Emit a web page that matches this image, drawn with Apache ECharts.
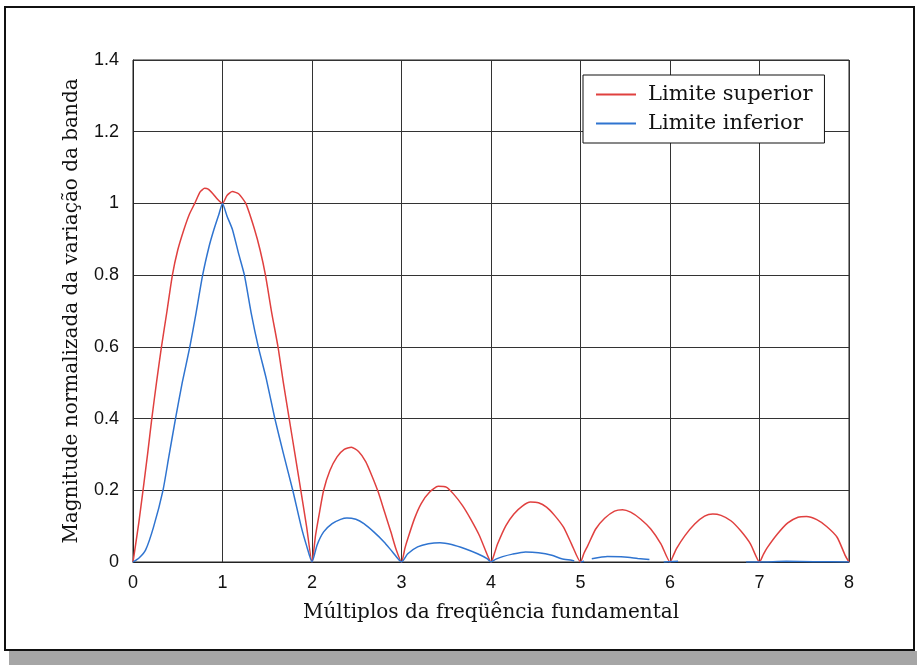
<!DOCTYPE html>
<html>
<head>
<meta charset="utf-8">
<script src="https://cdn.jsdelivr.net/npm/echarts@6/dist/echarts.min.js"></script>
<style>
html,body{margin:0;padding:0;background:#fff;}
#chart{width:917px;height:668px;}
</style>
</head>
<body>
<div id="chart"></div>
<script>
// ---- data ----
const seriesNames = ['Limite superior', 'Limite inferior'];
const xTicks = [0, 1, 2, 3, 4, 5, 6, 7, 8];
const yTicks = [0, 0.2, 0.4, 0.6, 0.8, 1, 1.2, 1.4];

const upperX = [0,0.03,0.065,0.112,0.165,0.21,0.265,0.318,0.38,0.44,0.5,0.57,0.63,0.69,0.75,0.8,0.84,0.89,0.95,1.0,
  1.05,1.11,1.18,1.26,1.355,1.42,1.48,1.55,1.62,1.68,1.745,1.81,1.875,1.94,2.0,
  2.04,2.085,2.13,2.2,2.28,2.36,2.44,2.52,2.6,2.67,2.74,2.81,2.88,2.94,3.0,
  3.04,3.07,3.145,3.22,3.315,3.41,3.5,3.58,3.68,3.77,3.87,3.96,4.0,
  4.04,4.073,4.165,4.256,4.35,4.44,4.53,4.62,4.71,4.81,4.9,5.0,
  5.04,5.08,5.17,5.27,5.38,5.47,5.56,5.67,5.785,5.9,6.0,
  6.04,6.074,6.165,6.276,6.386,6.478,6.57,6.68,6.79,6.9,7.0,
  7.045,7.087,7.2,7.316,7.43,7.525,7.64,7.75,7.867,7.96,8.0];
const upperY = [0,0.05,0.11,0.2,0.305,0.4,0.505,0.6,0.7,0.8,0.87,0.928,0.97,1.0,1.032,1.042,1.04,1.028,1.01,1.0,
  1.022,1.033,1.027,1.0,0.93,0.87,0.8,0.695,0.6,0.5,0.4,0.3,0.2,0.098,0,
  0.075,0.14,0.2,0.255,0.293,0.314,0.32,0.308,0.28,0.24,0.195,0.14,0.085,0.035,0,
  0.04,0.065,0.121,0.163,0.195,0.211,0.209,0.19,0.158,0.121,0.074,0.019,0,
  0.025,0.05,0.101,0.134,0.156,0.167,0.165,0.153,0.13,0.097,0.05,0,
  0.025,0.045,0.092,0.122,0.142,0.146,0.139,0.12,0.092,0.05,0,
  0.02,0.038,0.073,0.106,0.128,0.134,0.13,0.115,0.087,0.05,0,
  0.022,0.04,0.078,0.109,0.125,0.127,0.118,0.099,0.069,0.017,0];

const lowerX = [0,0.07,0.14,0.23,0.335,0.4,0.475,0.55,0.635,0.705,0.778,0.85,0.905,0.96,1.0,
  1.05,1.11,1.18,1.245,1.32,1.4,1.49,1.585,1.68,1.785,1.88,1.94,2.0,
  2.056,2.13,2.225,2.32,2.39,2.49,2.58,2.69,2.805,2.9,3.0,
  3.07,3.18,3.3,3.43,3.56,3.71,3.85,3.96,4.0,
  4.055,4.13,4.24,4.385,4.53,4.68,4.79,4.9,4.93,4.96,5.0,5.04,5.08,
  5.126,5.3,5.49,5.64,5.77,5.85,5.93,6.09,6.5,6.85,7.0,7.3,7.6,8.0];
const lowerY = [0,0.012,0.033,0.098,0.2,0.293,0.4,0.5,0.6,0.695,0.8,0.88,0.928,0.97,1.0,
  0.965,0.928,0.86,0.8,0.695,0.6,0.51,0.4,0.303,0.2,0.098,0.045,0,
  0.047,0.084,0.107,0.119,0.123,0.119,0.107,0.084,0.056,0.028,0,
  0.023,0.042,0.051,0.054,0.049,0.037,0.023,0.009,0,
  0.008,0.015,0.022,0.028,0.026,0.019,0.009,0.005,0.003,null,0,0.002,null,
  0.009,0.015,0.014,0.01,0.007,null,0,0.002,null,0,0,0.002,0.001,0];

function pairs(xs, ys) { return xs.map((x, i) => [x, ys[i] === null ? '-' : ys[i]]); }

const chart = echarts.init(document.getElementById('chart'));
const serifFont = '"DejaVu Serif", serif';
const sansFont = '"Liberation Sans", Arial, sans-serif';

chart.setOption({
  backgroundColor: '#ffffff',
  animation: false,
  graphic: [
    { type: 'rect', z: 0, shape: { x: 9, y: 651, width: 908, height: 14 }, style: { fill: '#a6a6a6' } },
    { type: 'rect', z: 0, shape: { x: 5, y: 7, width: 909, height: 643 }, style: { fill: 'none', stroke: '#111', lineWidth: 2 } }
  ],
  grid: { left: 133, top: 60, right: 68, bottom: 106, show: true, borderColor: '#222', borderWidth: 1, backgroundColor: 'transparent' },
  legend: {
    orient: 'vertical', left: 583, top: 75,
    padding: [9, 12, 9, 13], itemGap: 8,
    itemWidth: 40, itemHeight: 2, icon: 'rect',
    backgroundColor: '#fff', borderColor: '#111', borderWidth: 1,
    textStyle: { fontFamily: serifFont, fontSize: 21, color: '#111', padding: [0, 0, 0, 7] },
    data: seriesNames
  },
  xAxis: {
    type: 'value', min: xTicks[0], max: xTicks[xTicks.length - 1], interval: 1,
    name: 'Múltiplos da freqüência fundamental', nameLocation: 'middle', nameGap: 41,
    nameTextStyle: { fontFamily: serifFont, fontSize: 20, color: '#111' },
    axisLine: { show: true, lineStyle: { color: '#222', width: 1 } },
    axisTick: { show: false },
    axisLabel: { fontFamily: sansFont, fontSize: 18, color: '#111', margin: 12 },
    splitLine: { show: true, lineStyle: { color: '#333', width: 1 } }
  },
  yAxis: {
    type: 'value', min: yTicks[0], max: yTicks[yTicks.length - 1], interval: 0.2,
    name: 'Magnitude normalizada da variação da banda', nameLocation: 'middle', nameGap: 51, nameRotate: 90,
    nameTextStyle: { fontFamily: serifFont, fontSize: 20, color: '#111' },
    axisLine: { show: true, lineStyle: { color: '#222', width: 1 } },
    axisTick: { show: false },
    axisLabel: { fontFamily: sansFont, fontSize: 18, color: '#111', margin: 14 },
    splitLine: { show: true, lineStyle: { color: '#333', width: 1 } }
  },
  series: [
    { name: seriesNames[0], type: 'line', data: pairs(upperX, upperY), showSymbol: false, smooth: 0.2,
      color: '#e0403f', lineStyle: { color: '#e0403f', width: 1.5 }, z: 5 },
    { name: seriesNames[1], type: 'line', data: pairs(lowerX, lowerY), showSymbol: false, smooth: 0.2, connectNulls: false,
      color: '#2f74d0', lineStyle: { color: '#2f74d0', width: 1.5 }, z: 6 }
  ]
});
</script>
</body>
</html>
